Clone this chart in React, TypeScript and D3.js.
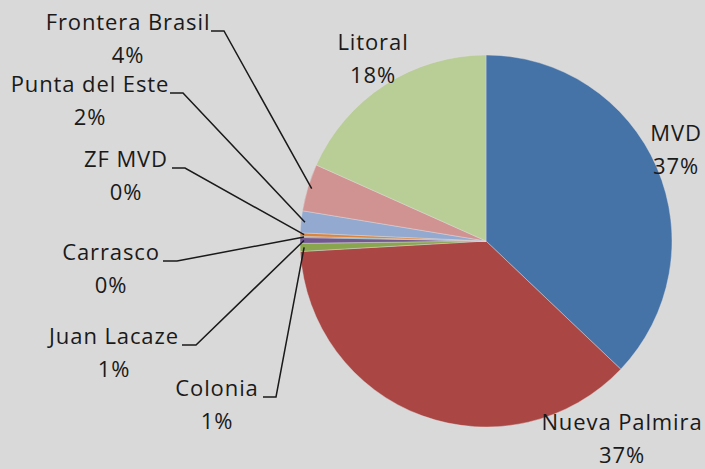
import React from "react";
import * as d3 from "d3";

const categories = ["MVD", "Nueva Palmira", "Colonia", "Juan Lacaze", "Carrasco", "ZF MVD", "Punta del Este", "Frontera Brasil", "Litoral"];
const values = [37.1, 37.0, 0.7, 0.5, 0.1, 0.3, 1.9, 4.1, 18.3];
const percentLabels = ["37%", "37%", "1%", "1%", "0%", "0%", "2%", "4%", "18%"];
const colors = ["#4572A7", "#AA4643", "#89A54E", "#71588F", "#4198AF", "#DB843D", "#93A9CF", "#D19392", "#B9CD96"];

// label layout: text center x, first-line baseline y, leader line (null if none)
const labelLayout: { x: number; y: number; leader: null | { x0: number; x1: number } }[] = [
  { x: 676, y: 141, leader: null },
  { x: 622, y: 430, leader: null },
  { x: 217, y: 396, leader: { x0: 263, x1: 276 } },
  { x: 114, y: 344, leader: { x0: 182, x1: 196 } },
  { x: 111, y: 260, leader: { x0: 163, x1: 177 } },
  { x: 126, y: 167, leader: { x0: 172, x1: 185 } },
  { x: 90, y: 92, leader: { x0: 170, x1: 183 } },
  { x: 128, y: 30, leader: { x0: 211, x1: 224 } },
  { x: 373, y: 50, leader: null },
];

const W = 705;
const H = 469;
const cx = 486;
const cy = 241;
const R = 186;

export default function App() {
  const pie = d3.pie<number>().sort(null).value((d) => d);
  const arcs = pie(values);
  const arc = d3.arc<d3.PieArcDatum<number>>().innerRadius(0).outerRadius(R);
  const edge = d3.arc<d3.PieArcDatum<number>>().innerRadius(R - 4).outerRadius(R - 4);

  return (
    <svg
      width={W}
      height={H}
      style={{ position: "absolute", left: 0, top: 0, background: "#D9D9D9" }}
      fontFamily="'Open Sans', sans-serif"
    >
      <rect x={0} y={0} width={W} height={H} fill="#D9D9D9" />
      <g transform={`translate(${cx},${cy})`}>
        {arcs.map((a, i) => (
          <path key={i} d={arc(a) || ""} fill={colors[i]} stroke="#E0E0E0" strokeWidth={0.4} />
        ))}
      </g>
      {arcs.map((a, i) => {
        const L = labelLayout[i];
        if (!L.leader) return null;
        const [ex, ey] = edge.centroid(a);
        const px = cx + ex;
        const py = cy + ey;
        const ly = L.y + 1;
        return (
          <polyline
            key={"l" + i}
            points={`${L.leader.x0},${ly} ${L.leader.x1},${ly} ${px},${py}`}
            fill="none"
            stroke="#1a1a1a"
            strokeWidth={1.5}
          />
        );
      })}
      {categories.map((c, i) => {
        const L = labelLayout[i];
        return (
          <g key={"t" + i} fill="#1a1a1a" fontSize={22} textAnchor="middle" letterSpacing={0.9}>
            <text x={L.x} y={L.y}>{c}</text>
            <text x={L.x} y={L.y + 33}>{percentLabels[i]}</text>
          </g>
        );
      })}
    </svg>
  );
}
